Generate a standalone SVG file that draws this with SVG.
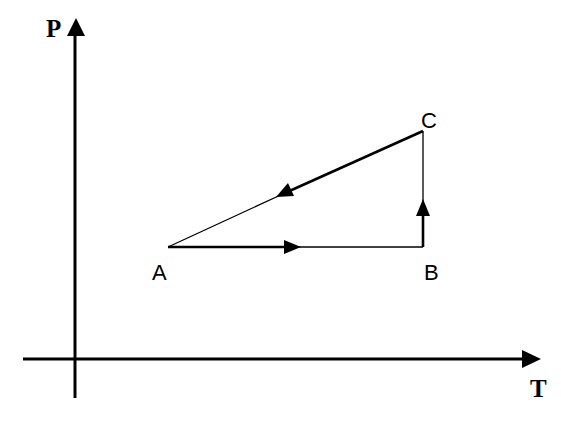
<svg xmlns="http://www.w3.org/2000/svg" width="561" height="427" viewBox="0 0 561 427">
<style>
.axis{stroke:#000;stroke-width:3;fill:none}
.thick{stroke:#000;stroke-width:2.6;fill:none}
.thin{stroke:#000;stroke-width:1.3;fill:none}
.ah{fill:#000}
.lbl{font-family:"Liberation Sans",Arial,sans-serif;font-size:22px;fill:#000}
.ax{font-family:"Liberation Serif","Times New Roman",serif;font-weight:bold;font-size:25px;fill:#000}
</style>
<rect width="561" height="427" fill="#fff"/>
<g id="axes">
<line class="axis" x1="75" y1="34" x2="75" y2="398"/>
<polygon class="ah" points="76,18 67,36 85,36"/>
<line class="axis" x1="23" y1="359" x2="524" y2="359"/>
<polygon class="ah" points="541,359 522,350 522,368"/>
<text class="ax" x="46" y="37">P</text>
<text class="ax" x="530" y="397">T</text>
</g>
<g id="connectors">
<line class="thick" x1="168" y1="247" x2="290" y2="247"/>
<line class="thin" x1="290" y1="247" x2="423" y2="247"/>
<polygon class="ah" points="301,247 284,240 284,254"/>
<line class="thick" x1="423" y1="247" x2="423" y2="205"/>
<line class="thin" x1="423" y1="205" x2="423" y2="131"/>
<polygon class="ah" points="423,199 416,216 430,216"/>
<line class="thick" x1="423" y1="131" x2="285" y2="193"/>
<line class="thin" x1="285" y1="193" x2="168" y2="247"/>
<polygon class="ah" points="276,197 288,183 294,196"/>
</g>
<g id="node-A"><text class="lbl" x="152" y="280">A</text></g>
<g id="node-B"><text class="lbl" x="424" y="280">B</text></g>
<g id="node-C"><text class="lbl" x="421" y="128">C</text></g>
</svg>
